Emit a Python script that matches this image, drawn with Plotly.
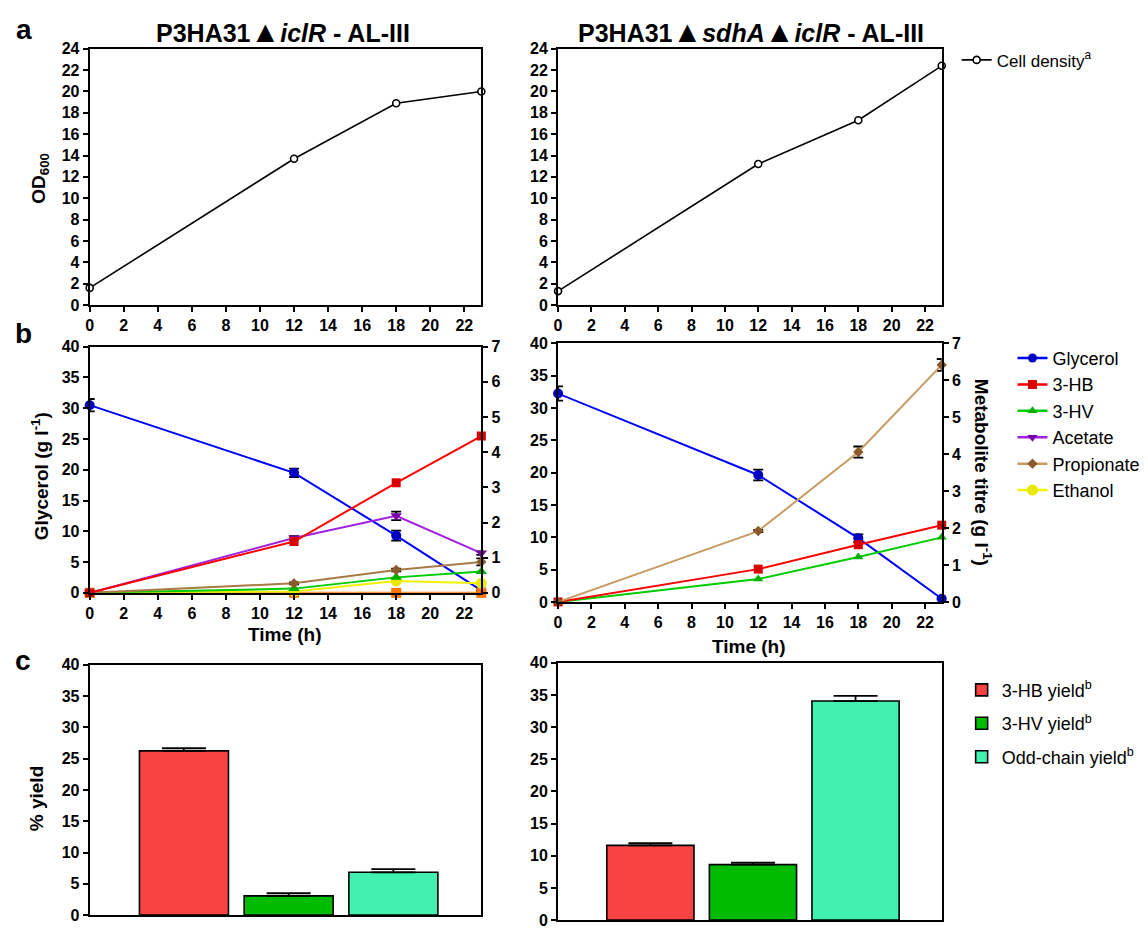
import plotly.graph_objects as go

W, H = 1148, 933
def X(px): return px / W
def Y(py): return 1 - py / H

# ---------------- data ----------------
time_h = [0, 12, 18, 23]
od_left = [1.6, 13.7, 18.9, 20.0]
od_right = [1.3, 13.2, 17.3, 22.4]

glycerol_L = [30.5, 19.5, 9.3, 0.4]
glycerol_L_err = [1.0, 0.7, 0.8, 0.1]
hb_L = [0, 1.46, 3.13, 4.46]
hv_L = [0, 0.12, 0.44, 0.61]
acetate_L = [0, 1.56, 2.19, 1.13]
acetate_L_err = [0, 0.05, 0.12, 0.05]
propionate_L = [0, 0.27, 0.65, 0.88]
propionate_L_err = [0, 0.03, 0.04, 0.1]
ethanol_L = [0, 0.04, 0.34, 0.27]
other_L = [0, 0, 0, 0]

glycerol_R = [32.25, 19.65, 9.87, 0.5]
glycerol_R_err = [1.1, 0.84, 0.6, 0.1]
hb_R = [0, 0.89, 1.55, 2.08]
hv_R = [0, 0.62, 1.22, 1.75]
propionate_R = [0, 1.92, 4.06, 6.42]
propionate_R_err = [0, 0.03, 0.15, 0.16]

yield_cats = ["3-HB yield", "3-HV yield", "Odd-chain yield"]
yield_L = [26.25, 3.08, 6.85]
yield_L_err = [0.42, 0.42, 0.52]
yield_R = [11.62, 8.63, 34.06]
yield_R_err = [0.36, 0.3, 0.81]

x_ticks_time = list(range(0, 23, 2))

# ---------------- style ----------------
FONT = "Arial, 'Liberation Sans', sans-serif"
tickfont = dict(family=FONT, size=16, color="black", weight="bold")
C_GLY_L, C_GLY_M = "#0000ff", "#0000c0"
C_HB_L, C_HB_M = "#ff0000", "#d80000"
C_HV_L, C_HV_M = "#00cc00", "#00b000"
C_AC_L, C_AC_M = "#a020e0", "#7a00a8"
C_PR_L, C_PR_M = "#a87a45", "#8b5a2b"
C_PR_L2 = "#c89b62"
C_ET_L, C_ET_M = "#f2f200", "#e8e800"
C_OR = "#ff7300"
BAR_COLORS = ["#f94343", "#00bb00", "#42f0b0"]

fig = go.Figure()

def err(arr, w=5):
    return dict(type="data", array=arr, color="black", thickness=1.8, width=w, visible=True)

# ---------- panel a ----------
for xa, ya, vals, show in [("x", "y", od_left, True), ("x2", "y2", od_right, False)]:
    fig.add_trace(go.Scatter(
        x=time_h, y=vals, xaxis=xa, yaxis=ya, mode="lines+markers",
        name="Cell density<sup>a</sup>", showlegend=show, legend="legend",
        line=dict(color="black", width=1.6),
        marker=dict(symbol="circle", size=7, color="white", line=dict(color="black", width=1.6)),
        cliponaxis=False))

# ---------- panel b ----------
def line_trace(x, y, xa, ya, name, lc, mc, sym, size, show, e=None, lw=2):
    return go.Scatter(
        x=x, y=y, xaxis=xa, yaxis=ya, mode="lines+markers", name=name,
        showlegend=show, legend="legend2",
        line=dict(color=lc, width=lw),
        marker=dict(symbol=sym, size=size, color=mc, line=dict(width=0)),
        error_y=e, cliponaxis=False)

fig.add_trace(line_trace(time_h, other_L, "x3", "y4", "other", C_OR, C_OR, "square", 10, False))
fig.add_trace(line_trace(time_h, ethanol_L, "x3", "y4", "Ethanol", C_ET_L, C_ET_M, "circle", 11, False))
fig.add_trace(line_trace(time_h, hv_L, "x3", "y4", "3-HV", C_HV_L, C_HV_M, "triangle-up", 10, False))
fig.add_trace(line_trace(time_h, propionate_L, "x3", "y4", "Propionate", C_PR_L, C_PR_M, "diamond", 8, False, err(propionate_L_err)))
fig.add_trace(line_trace(time_h, acetate_L, "x3", "y4", "Acetate", C_AC_L, C_AC_M, "triangle-down", 10, False, err(acetate_L_err)))
fig.add_trace(line_trace(time_h, hb_L, "x3", "y4", "3-HB", C_HB_L, C_HB_M, "square", 9, False))
fig.add_trace(line_trace(time_h, glycerol_L, "x3", "y3", "Glycerol", C_GLY_L, C_GLY_M, "circle", 10, False, err(glycerol_L_err)))

fig.add_trace(line_trace(time_h, hv_R, "x4", "y6", "3-HV", C_HV_L, C_HV_M, "triangle-up", 9, False))
fig.add_trace(line_trace(time_h, hb_R, "x4", "y6", "3-HB", C_HB_L, C_HB_M, "square", 9, False))
fig.add_trace(line_trace(time_h, propionate_R, "x4", "y6", "Propionate", C_PR_L2, C_PR_M, "diamond", 8, False, err(propionate_R_err)))
fig.add_trace(line_trace(time_h, glycerol_R, "x4", "y5", "Glycerol", C_GLY_L, C_GLY_M, "circle", 10, False, err(glycerol_R_err)))

leg_b = [("Glycerol", C_GLY_L, C_GLY_M, "circle", 9),
         ("3-HB", C_HB_L, C_HB_M, "square", 9),
         ("3-HV", C_HV_L, C_HV_M, "triangle-up", 9),
         ("Acetate", C_AC_L, C_AC_M, "triangle-down", 9),
         ("Propionate", C_PR_L2, C_PR_M, "diamond", 8),
         ("Ethanol", C_ET_L, C_ET_M, "circle", 11)]
for name, lc, mc, sym, sz in leg_b:
    fig.add_trace(go.Scatter(x=[None], y=[None], xaxis="x3", yaxis="y3", mode="lines+markers",
                             name=name, legend="legend2", showlegend=True,
                             line=dict(color=lc, width=2.5),
                             marker=dict(symbol=sym, size=sz, color=mc)))

# ---------- panel c ----------
for xa, ya, vals, errs, show in [("x5", "y7", yield_L, yield_L_err, True),
                                 ("x6", "y8", yield_R, yield_R_err, False)]:
    for i, cat in enumerate(yield_cats):
        fig.add_trace(go.Bar(
            x=[i], y=[vals[i]], xaxis=xa, yaxis=ya, width=0.85,
            name=cat + "<sup>b</sup>", legend="legend3", showlegend=show,
            legendgroup=cat,
            marker=dict(color=BAR_COLORS[i], line=dict(color="black", width=1.6)),
            error_y=dict(type="data", symmetric=False, array=[errs[i]], arrayminus=[0],
                         color="black", thickness=1.8, width=22)))

# ---------------- axes ----------------
def xax(dom, rng, ticks=True, **kw):
    d = dict(domain=[X(dom[0]), X(dom[1])], range=rng, showline=True, linecolor="black",
             linewidth=2, mirror=True, showgrid=False, zeroline=False,
             tickfont=tickfont, fixedrange=True)
    if ticks:
        d.update(ticks="outside", ticklen=5, tickwidth=2, tickcolor="black",
                 tickmode="array", tickvals=x_ticks_time)
    else:
        d.update(ticks="", showticklabels=False)
    d.update(kw)
    return d

def yax(dom, rng, dtick, **kw):
    d = dict(domain=[Y(dom[1]), Y(dom[0])], range=rng, showline=True, linecolor="black",
             linewidth=2, mirror=True, showgrid=False, zeroline=False,
             ticks="outside", ticklen=5, tickwidth=2, tickcolor="black",
             dtick=dtick, tick0=0, tickfont=tickfont, fixedrange=True)
    d.update(kw)
    return d

XL, XR = (86, 479), (556, 941)
layout = dict(
    width=W, height=H, margin=dict(l=0, r=0, t=0, b=0),
    paper_bgcolor="white", plot_bgcolor="white", barmode="overlay",
    font=dict(family=FONT, color="black"),
    xaxis=xax(XL, [0, 23], anchor="y"),
    yaxis=yax((41.5, 302.5), [0, 24], 2, anchor="x"),
    xaxis2=xax(XR, [0, 23], anchor="y2"),
    yaxis2=yax((41.5, 302.5), [0, 24], 2, anchor="x2"),
    xaxis3=xax(XL, [0, 23], anchor="y3"),
    yaxis3=yax((345, 595.7), [0, 40], 5, anchor="x3", mirror=False),
    yaxis4=yax((345, 595.7), [0, 7], 1, anchor="x3", overlaying="y3", side="right", mirror=False),
    xaxis4=xax(XR, [0, 23], anchor="y5"),
    yaxis5=yax((341.7, 605), [0, 40], 5, anchor="x4", mirror=False),
    yaxis6=yax((341.7, 605), [0, 7], 1, anchor="x4", overlaying="y5", side="right", mirror=False),
    xaxis5=xax(XL, [-0.9, 2.84], ticks=False, anchor="y7"),
    yaxis7=yax((669, 924), [0, 40], 5, anchor="x5"),
    xaxis6=xax(XR, [-0.9, 2.84], ticks=False, anchor="y8"),
    yaxis8=yax((667, 929), [0, 40], 5, anchor="x6"),
    legend=dict(x=X(956), y=Y(35), xanchor="left", yanchor="top",
                font=dict(family=FONT, size=17, color="black"), bgcolor="rgba(0,0,0,0)"),
    legend2=dict(x=X(1012), y=Y(338), xanchor="left", yanchor="top",
                 font=dict(family=FONT, size=18, color="black"), bgcolor="rgba(0,0,0,0)"),
    legend3=dict(x=X(961), y=Y(676), xanchor="left", yanchor="top", traceorder="grouped",
                 tracegroupgap=7,
                 font=dict(family=FONT, size=18, color="black"), bgcolor="rgba(0,0,0,0)"),
)

def ann(text, x, y, size, angle=0, bold=True):
    return dict(text=text, x=X(x), y=Y(y), xref="paper", yref="paper",
                xanchor="center", yanchor="middle", showarrow=False, textangle=angle,
                font=dict(family=FONT, size=size, color="black",
                          weight="bold" if bold else "normal"))

TRI = "<span style='font-size:30px'>▲</span>"
annotations = [
    ann("a", 20, 22, 28), ann("b", 20, 332, 28), ann("c", 19, 665, 28),
    ann("P3HA31" + TRI + "<i>iclR</i> - AL-III", 280, 24, 25),
    ann("P3HA31" + TRI + "<i>sdhA</i>" + TRI + "<i>iclR</i> - AL-III", 750, 24, 25),
    ann("OD<sub>600</sub>", 36, 173, 19, -90),
    ann("Glycerol (g l<sup>-1</sup>)", 36, 477, 19, -90),
    ann("Metabolite titre (g l<sup>-1</sup>)", 982, 473, 19, 90),
    ann("Time (h)", 282, 638, 19),
    ann("Time (h)", 748, 650, 19),
    ann("% yield", 32, 805, 19, -90),
]
layout["annotations"] = annotations
fig.update_layout(**layout)
fig.write_html("out.html")
